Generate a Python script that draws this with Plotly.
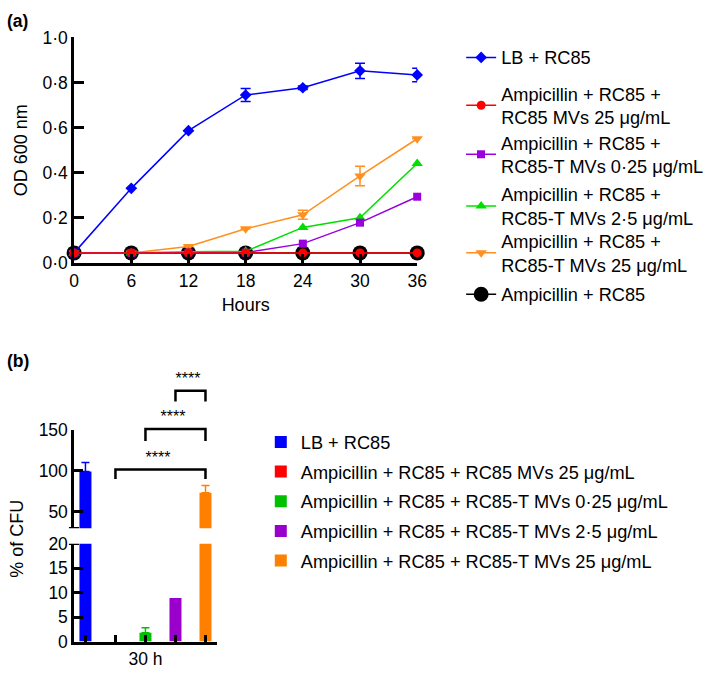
import plotly.graph_objects as go

FONT = "Liberation Sans, Arial, Helvetica, sans-serif"

# ---------------- Panel (a) data ----------------
hours = [0, 6, 12, 18, 24, 30, 36]
hour_ticks = [0, 6, 12, 18, 24, 30, 36]
od_ticks = [0.0, 0.2, 0.4, 0.6, 0.8, 1.0]
od_tick_text = ["0·0", "0·2", "0·4", "0·6", "0·8", "1·0"]

lb_rc85 = [0.045, 0.331, 0.587, 0.745, 0.777, 0.852, 0.834]
lb_rc85_err = [0, 0, 0, 0.029, 0.008, 0.034, 0.030]
amp_rc85_mv25 = [0.045, 0.045, 0.046, 0.045, 0.045, 0.045, 0.045]
amp_t_mv025 = [0.045, 0.045, 0.046, 0.046, 0.086, 0.179, 0.294]
amp_t_mv25_low = [0.045, 0.045, 0.050, 0.052, 0.158, 0.201, 0.441]
amp_t_mv25 = [0.045, 0.045, 0.073, 0.152, 0.214, 0.386, 0.551]
amp_t_mv25_err = [0, 0, 0, 0, 0.020, 0.043, 0]
amp_rc85 = [0.045, 0.045, 0.045, 0.045, 0.045, 0.045, 0.045]

names_a = [
    "LB + RC85",
    "Ampicillin + RC85 +<br>RC85 MVs 25 μg/mL",
    "Ampicillin + RC85 +<br>RC85-T MVs 0·25 μg/mL",
    "Ampicillin + RC85 +<br>RC85-T MVs 2·5 μg/mL",
    "Ampicillin + RC85 +<br>RC85-T MVs 25 μg/mL",
    "Ampicillin + RC85",
]

# ---------------- Panel (b) data ----------------
cfu_labels = [
    "LB + RC85",
    "Ampicillin + RC85 + RC85 MVs 25 μg/mL",
    "Ampicillin + RC85 + RC85-T MVs 0·25 μg/mL",
    "Ampicillin + RC85 + RC85-T MVs 2·5 μg/mL",
    "Ampicillin + RC85 + RC85-T MVs 25 μg/mL",
]
cfu_values = [99.0, 0.0, 1.8, 8.9, 73.2]
cfu_err = [11.0, 0.0, 1.0, 0.0, 8.7]
cfu_colors = ["#0000ff", "#ff0000", "#00c000", "#9900cc", "#ff8000"]
group_label = "30 h"

# significance comparisons (group index pairs), bracket heights, label
sig_pairs = [(1, 4), (2, 4), (3, 4)]
sig_heights = [101.6, 150.7, 197.2]
sig_drop = [11.8, 14.5, 13.0]
sig_label = "****"

fig = go.Figure()

# ---------------- Panel (a) traces ----------------
a_specs = [
    (amp_rc85, None, "#000000", "circle", 15, "legend6", 5),
    (amp_t_mv25, amp_t_mv25_err, "#ff9020", "triangle-down", 10, "legend5", 4),
    (amp_t_mv25_low, None, "#00e000", "triangle-up", 10, "legend4", 3),
    (amp_t_mv025, None, "#9900dd", "square", 8, "legend3", 2),
    (lb_rc85, lb_rc85_err, "#0000ff", "diamond", 9, "legend", 0),
    (amp_rc85_mv25, None, "#ff0000", "circle", 9, "legend2", 1),
]
for vals, err, col, sym, sz, leg, ni in a_specs:
    fig.add_trace(go.Scatter(
        x=hours, y=vals, name=names_a[ni], mode="lines+markers",
        line=dict(color=col, width=1.5),
        marker=dict(color=col, symbol=sym, size=sz, line=dict(width=0)),
        error_y=(dict(type="data", array=err, color=col, thickness=1.5, width=5,
                      visible=True) if err is not None else None),
        cliponaxis=False, legend=leg, xaxis="x", yaxis="y",
    ))

# ---------------- Panel (b) traces ----------------
xpos = list(range(len(cfu_values)))
for i, (lab, v, e, c) in enumerate(zip(cfu_labels, cfu_values, cfu_err, cfu_colors)):
    for yax, show in (("y2", True), ("y3", False)):
        fig.add_trace(go.Bar(
            x=[xpos[i]], y=[v], name=lab, marker=dict(color=c, line=dict(width=0)),
            width=0.4, showlegend=show, legend="legend7",
            legendgroup=f"b{i}",
            error_y=dict(type="data", symmetric=False, array=[e], arrayminus=[0],
                         color=c, thickness=1.5, width=4, visible=e > 0),
            xaxis="x2", yaxis=yax,
        ))

# significance brackets
bx, by = [], []
for (a, b), h, d in zip(sig_pairs, sig_heights, sig_drop):
    bx += [a, a, b, b, None]
    by += [h - d, h, h, h - d, None]
fig.add_trace(go.Scatter(x=bx, y=by, mode="lines", line=dict(color="black", width=2.5),
                         showlegend=False, xaxis="x2", yaxis="y4", hoverinfo="skip"))
fig.add_trace(go.Scatter(
    x=[(a + b) / 2 - 0.08 for a, b in sig_pairs],
    y=[h + 13 for h in sig_heights],
    text=[sig_label] * len(sig_pairs), mode="text",
    textfont=dict(size=16, color="black", family=FONT),
    showlegend=False, xaxis="x2", yaxis="y4", hoverinfo="skip", cliponaxis=False))

W, H = 709, 680


def px_x(p):
    return p / W


def px_y(p):
    return 1 - p / H


axis_common = dict(showline=True, linecolor="black", linewidth=2.5, ticks="inside",
                   tickcolor="black", tickwidth=2.5, showgrid=False, zeroline=False,
                   tickfont=dict(size=17.5, color="black", family=FONT))

leg_common = dict(bgcolor="rgba(0,0,0,0)", borderwidth=0, xanchor="left", yanchor="middle",
                  font=dict(size=18.2, color="black", family=FONT), itemsizing="trace")

legend_centers = {"legend": 49, "legend2": 98.5, "legend3": 149, "legend4": 202.2,
                  "legend5": 250.4, "legend6": 293}
legends = {}
for k, c in legend_centers.items():
    legends[k] = dict(leg_common, x=px_x(466.7), y=px_y(c))

fig.update_layout(
    width=W, height=H, margin=dict(l=0, r=0, t=0, b=0),
    paper_bgcolor="white", plot_bgcolor="rgba(0,0,0,0)",
    font=dict(family=FONT, color="black"),
    barmode="overlay",
    xaxis=dict(axis_common, domain=[px_x(70.7), px_x(421.7)], range=[0, 36],
               tickvals=hour_ticks, ticklen=9, anchor="y",
               title=dict(text="Hours", font=dict(size=18), standoff=9)),
    yaxis=dict(axis_common, domain=[px_y(260.7), px_y(28.3)], range=[0, 1],
               tickvals=od_ticks, ticktext=od_tick_text, ticklen=10, anchor="x",
               title=dict(text="OD 600 nm", font=dict(size=18), standoff=11)),
    xaxis2=dict(axis_common, domain=[px_x(70.7), px_x(217.3)], range=[-0.378, 4.397],
                tickvals=xpos, ticktext=["", "", group_label, "", ""], ticklen=7,
                anchor="y2"),
    yaxis2=dict(axis_common, domain=[px_y(650.7), px_y(550)], range=[0, 20],
                tickvals=[0, 5, 10, 15, 20], ticklen=9, anchor="x2"),
    yaxis3=dict(axis_common, domain=[px_y(534), px_y(432.3)], range=[30, 150],
                tickvals=[50, 100, 150], ticklen=9, anchor="x2"),
    yaxis4=dict(domain=[px_y(534), px_y(340)], range=[30, 30 + (534 - 340) / (101.7 / 120)],
                visible=False, anchor="x2"),
    legend7=dict(leg_common, x=px_x(261.7), y=px_y(506.5), tracegroupgap=3),
    **legends,
)

# axis break marks
for yref, yv in (("y2", 20), ("y3", 30)):
    fig.add_shape(type="line", xref="x2 domain", yref=yref, x0=-0.036, x1=0.034,
                  y0=yv, y1=yv, line=dict(color="black", width=2.5))

fig.add_annotation(text="<b>(a)</b>", x=0, y=px_y(11.7), xref="paper", yref="paper",
                   xanchor="left", yanchor="middle", showarrow=False,
                   font=dict(size=17.5, family=FONT))
fig.add_annotation(text="<b>(b)</b>", x=0, y=px_y(361.7), xref="paper", yref="paper",
                   xanchor="left", yanchor="middle", showarrow=False,
                   font=dict(size=17.5, family=FONT))
fig.add_annotation(text="% of CFU", x=px_x(12), y=px_y(545), xref="paper", yref="paper",
                   textangle=-90, showarrow=False, xanchor="center", yanchor="middle",
                   font=dict(size=18, family=FONT))

fig.write_html("out.html", config={"displayModeBar": False},
               post_script="document.body.style.margin='0px';"
                           "document.documentElement.style.overflow='hidden';")
